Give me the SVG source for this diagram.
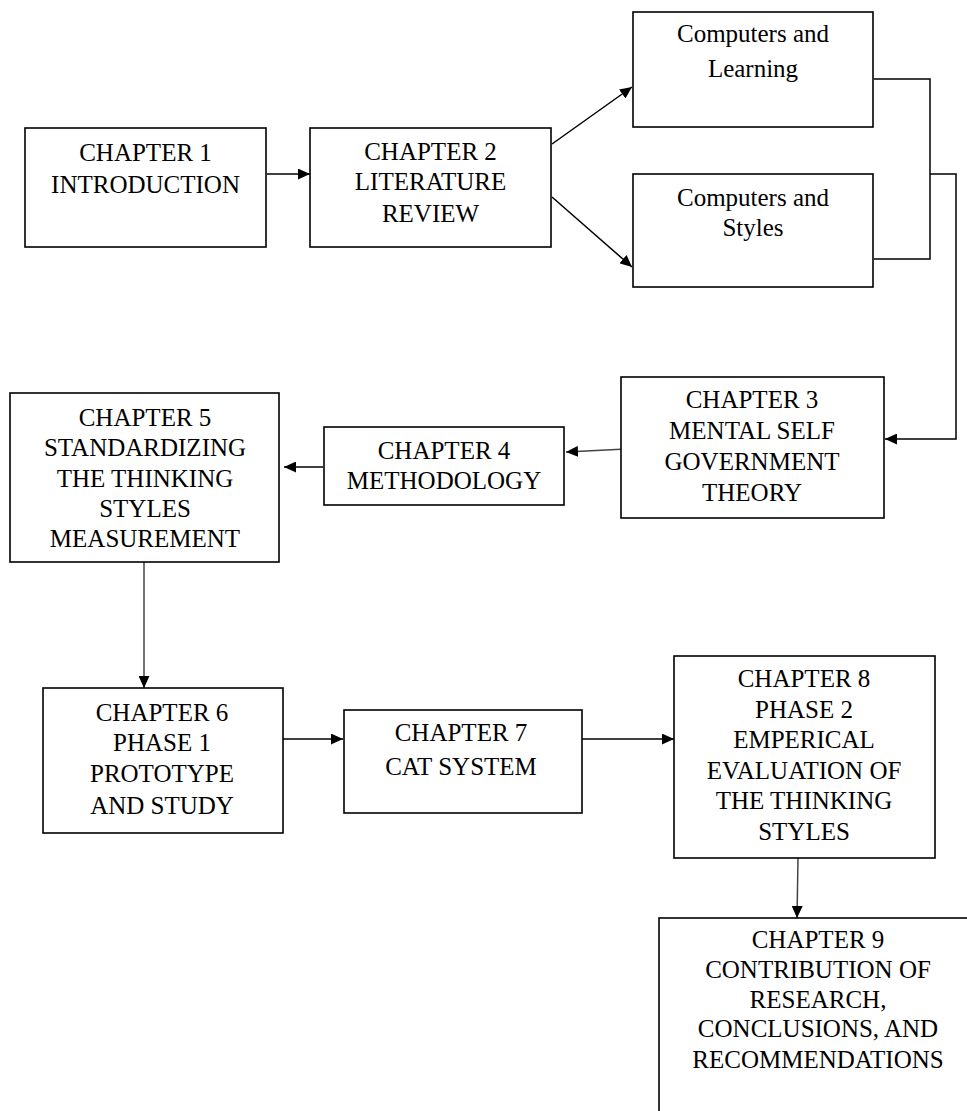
<svg xmlns="http://www.w3.org/2000/svg" width="967" height="1111" viewBox="0 0 967 1111">
<style>
.box{fill:#fff;stroke:#000;stroke-width:1.6}
.t{font-family:"Liberation Serif","Times New Roman",serif;font-size:25px;fill:#000;text-anchor:middle}
.c{fill:none;stroke:#000;stroke-width:1.5}
.g{fill:none;stroke:#444;stroke-width:1.5}
</style>
<defs>
<marker id="ah" markerUnits="userSpaceOnUse" markerWidth="13" markerHeight="11" refX="12" refY="5.5" orient="auto">
<path d="M0,0 L12,5.5 L0,11 Z" fill="#000"/>
</marker>
</defs>
<rect width="967" height="1111" fill="#fff"/>
<g id="connectors">
<line class="c" x1="267" y1="174" x2="310" y2="174" marker-end="url(#ah)"/>
<line class="c" x1="552" y1="144" x2="632" y2="87" marker-end="url(#ah)"/>
<line class="c" x1="552" y1="197" x2="632" y2="267" marker-end="url(#ah)"/>
<polyline class="c" points="874,79 930,79 930,259 874,259"/>
<polyline class="c" points="930,174 956,174 956,439 885,439" marker-end="url(#ah)"/>
<line class="g" x1="626" y1="449" x2="566" y2="452" marker-end="url(#ah)"/>
<line class="c" x1="323" y1="467" x2="284" y2="467" marker-end="url(#ah)"/>
<line class="g" x1="144" y1="562" x2="144" y2="688" marker-end="url(#ah)"/>
<line class="c" x1="283" y1="739" x2="343" y2="739" marker-end="url(#ah)"/>
<line class="c" x1="582" y1="739" x2="674" y2="739" marker-end="url(#ah)"/>
<line class="g" x1="798" y1="858" x2="797" y2="918" marker-end="url(#ah)"/>
</g>
<g id="ch1">
<rect class="box" x="25" y="128" width="241" height="119"/>
<text class="t" x="145.5" y="161">CHAPTER 1</text>
<text class="t" x="145.5" y="193">INTRODUCTION</text>
</g>
<g id="ch2">
<rect class="box" x="310" y="128" width="241" height="119"/>
<text class="t" x="430.5" y="160">CHAPTER 2</text>
<text class="t" x="430.5" y="190">LITERATURE</text>
<text class="t" x="430.5" y="222">REVIEW</text>
</g>
<g id="comp-learning">
<rect class="box" x="633" y="12" width="240" height="115"/>
<text class="t" x="753" y="42">Computers and</text>
<text class="t" x="753" y="77">Learning</text>
</g>
<g id="comp-styles">
<rect class="box" x="633" y="174" width="240" height="113"/>
<text class="t" x="753" y="206">Computers and</text>
<text class="t" x="753" y="236">Styles</text>
</g>
<g id="ch3">
<rect class="box" x="621" y="377" width="263" height="141"/>
<text class="t" x="752" y="408">CHAPTER 3</text>
<text class="t" x="752" y="439">MENTAL SELF</text>
<text class="t" x="752" y="470">GOVERNMENT</text>
<text class="t" x="752" y="501">THEORY</text>
</g>
<g id="ch4">
<rect class="box" x="324" y="427" width="240" height="78"/>
<text class="t" x="444" y="459">CHAPTER 4</text>
<text class="t" x="444" y="489">METHODOLOGY</text>
</g>
<g id="ch5">
<rect class="box" x="10" y="393" width="269" height="169"/>
<text class="t" x="145" y="426">CHAPTER 5</text>
<text class="t" x="145" y="456">STANDARDIZING</text>
<text class="t" x="145" y="487">THE THINKING</text>
<text class="t" x="145" y="517">STYLES</text>
<text class="t" x="145" y="547">MEASUREMENT</text>
</g>
<g id="ch6">
<rect class="box" x="43" y="688" width="240" height="145"/>
<text class="t" x="162" y="721">CHAPTER 6</text>
<text class="t" x="162" y="751">PHASE 1</text>
<text class="t" x="162" y="782">PROTOTYPE</text>
<text class="t" x="162" y="814">AND STUDY</text>
</g>
<g id="ch7">
<rect class="box" x="344" y="710" width="238" height="103"/>
<text class="t" x="461" y="741">CHAPTER 7</text>
<text class="t" x="461" y="775">CAT SYSTEM</text>
</g>
<g id="ch8">
<rect class="box" x="674" y="656" width="261" height="202"/>
<text class="t" x="804" y="687">CHAPTER 8</text>
<text class="t" x="804" y="718">PHASE 2</text>
<text class="t" x="804" y="748">EMPERICAL</text>
<text class="t" x="804" y="779">EVALUATION OF</text>
<text class="t" x="804" y="809">THE THINKING</text>
<text class="t" x="804" y="840">STYLES</text>
</g>
<g id="ch9">
<rect class="box" x="659" y="918" width="330" height="260"/>
<text class="t" x="818" y="948">CHAPTER 9</text>
<text class="t" x="818" y="978">CONTRIBUTION OF</text>
<text class="t" x="818" y="1008">RESEARCH,</text>
<text class="t" x="818" y="1037">CONCLUSIONS, AND</text>
<text class="t" x="818" y="1068">RECOMMENDATIONS</text>
</g>
</svg>
